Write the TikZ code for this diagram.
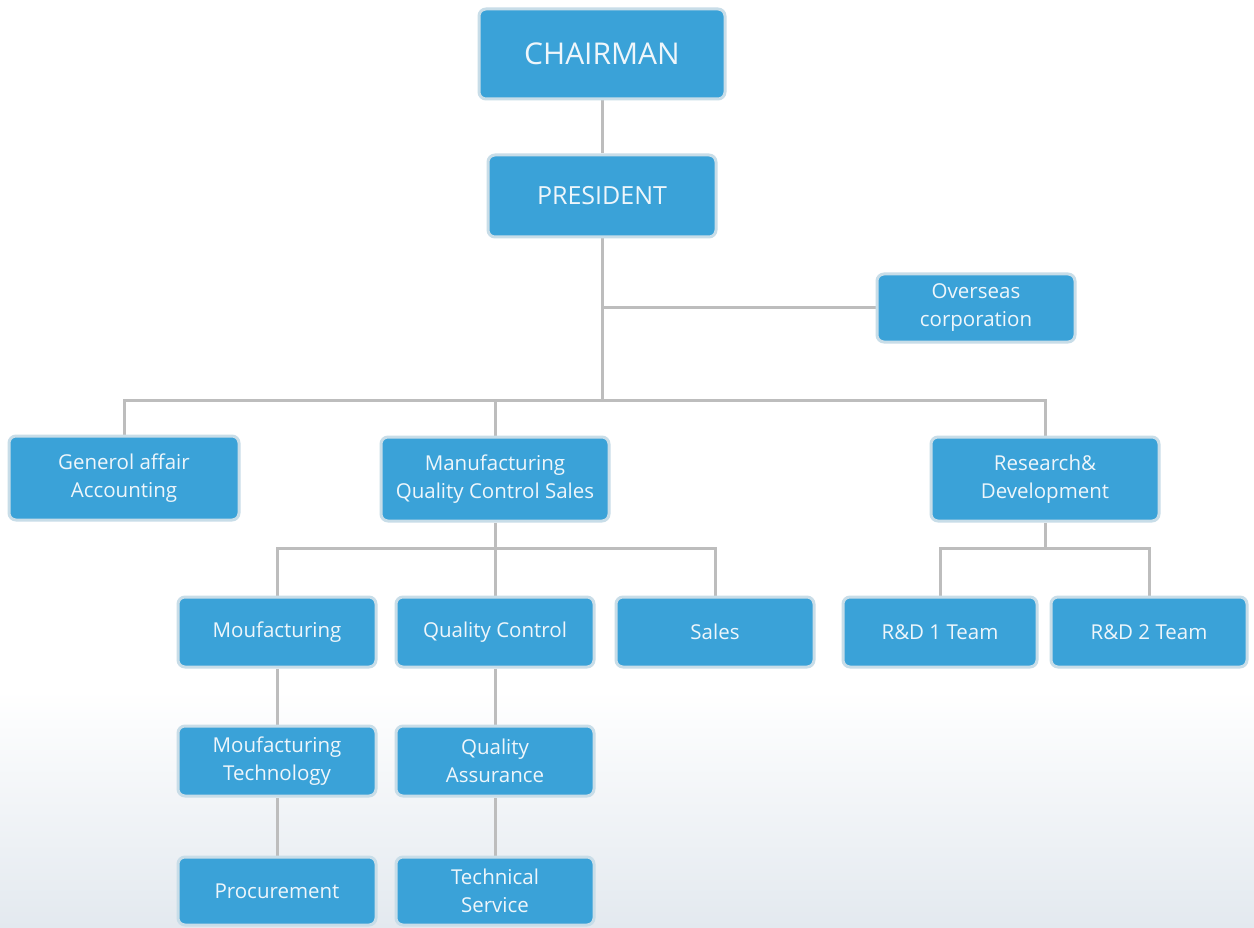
\documentclass[tikz,border=0pt]{standalone}
\usepackage{fontspec}
\setmainfont{Open Sans}
\usetikzlibrary{positioning}
\definecolor{boxfill}{HTML}{3AA2D8}
\definecolor{boxline}{HTML}{C8DDE8}
\definecolor{conn}{HTML}{BDBDBD}
\definecolor{txt}{HTML}{EEF6FB}
\definecolor{bgbottom}{HTML}{E3E9EF}
\pgfdeclarelayer{bg}
\pgfdeclarelayer{lines}
\pgfsetlayers{bg,lines,main}
\tikzset{
  orgbox/.style={draw=boxline, line width=3pt, fill=boxfill, rounded corners=7pt,
    text=txt, align=center, inner sep=0pt, font=\fontsize{20.5}{28}\selectfont},
  small/.style={orgbox, minimum width=198pt, minimum height=70pt},
  mid/.style={orgbox, minimum width=228pt, minimum height=84pt},
  big/.style={orgbox, minimum width=246pt, minimum height=90pt, font=\fontsize{30}{34}\selectfont},
  conline/.style={draw=conn, line width=3pt}
}
\begin{document}
\begin{tikzpicture}[x=1pt,y=-1pt]
\useasboundingbox (0,0) rectangle (1254,928);
\begin{pgfonlayer}{bg}
  \fill[white] (0,0) rectangle (1254,928);
  \shade[top color=white, bottom color=bgbottom] (0,690) rectangle (1254,928);
\end{pgfonlayer}

\node[big] (chair) at (602,54) {CHAIRMAN};
\node[orgbox, minimum width=228pt, minimum height=82pt, font=\fontsize{25}{29}\selectfont] (pres) at (602,196) {PRESIDENT};
\node[orgbox, minimum width=198pt, minimum height=68pt] (ov) at (976,308) {Overseas\\corporation};

\node[mid, minimum width=230pt] (gen) at (124,478) {Generol affair\\Accounting};
\node[mid] (mqc) at (495,479) {Manufacturing\\Quality Control Sales};
\node[mid] (res) at (1045,479) {Research\&\\Development};

\node[small] (mou) at (277,632) {Moufacturing};
\node[small] (qc) at (495,632) {Quality Control};
\node[small] (sales) at (715,632) {Sales};
\node[small, minimum width=194pt] (rd1) at (940,632) {R\&D 1 Team};
\node[small, minimum width=196pt] (rd2) at (1149,632) {R\&D 2 Team};

\node[small] (mt) at (277,761) {Moufacturing\\Technology};
\node[small] (qa) at (495,761) {Quality\\Assurance};
\node[small, minimum height=68pt] (proc) at (277,891) {Procurement};
\node[small, minimum height=68pt] (ts) at (495,891) {Technical\\Service};

\coordinate (j1) at (602,400);
\coordinate (j2) at (495,548);
\coordinate (j3) at (1045,548);

\begin{pgfonlayer}{lines}
  \draw[conline] (chair) -- (pres);
  \draw[conline] (pres) -- (j1);
  \draw[conline] (pres.south |- ov.west) -- (ov.west);
  \draw[conline] (gen.north) |- (j1) -| (res.north);
  \draw[conline] (mqc.north) -- (mqc.north |- j1);
  \draw[conline] (mqc) -- (j2);
  \draw[conline] (mou.north) |- (j2) -| (sales.north);
  \draw[conline] (qc.north) -- (j2);
  \draw[conline] (res) -- (j3);
  \draw[conline] (rd1.north) |- (j3) -| (rd2.north);
  \draw[conline] (mou) -- (mt);
  \draw[conline] (mt) -- (proc);
  \draw[conline] (qc) -- (qa);
  \draw[conline] (qa) -- (ts);
\end{pgfonlayer}
\end{tikzpicture}
\end{document}
